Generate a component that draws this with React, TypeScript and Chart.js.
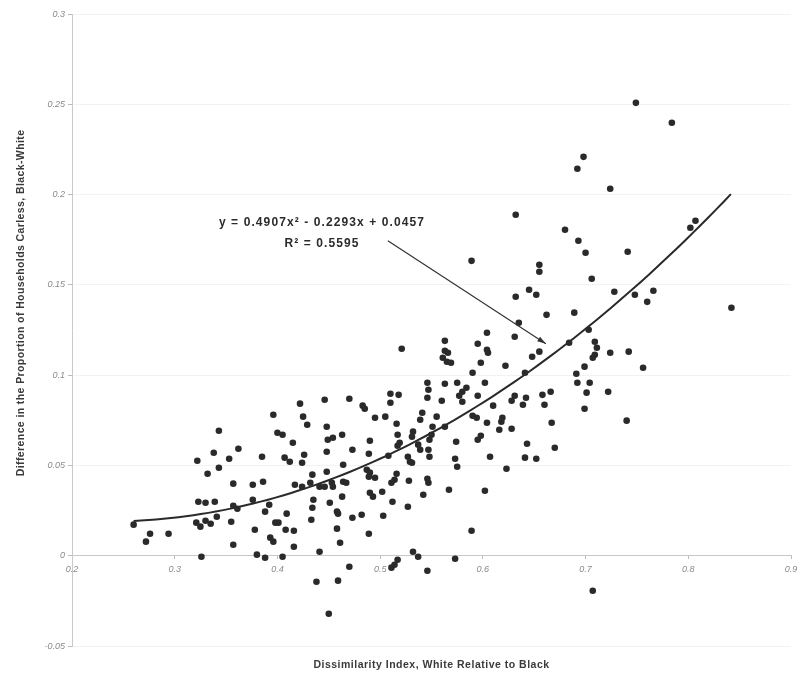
import React, { useEffect, useRef } from "react";
import { Chart, registerables } from "chart.js";

Chart.register(...registerables);

// Dissimilarity index (x) of each metropolitan area
const dissimilarity = [
  0.26, 0.276, 0.272, 0.294, 0.322, 0.338, 0.343, 0.332, 0.343, 0.353, 0.362, 0.323, 0.33, 0.339, 0.321, 0.325,
  0.33, 0.335, 0.341, 0.326, 0.357, 0.357, 0.361, 0.355, 0.357, 0.376, 0.386, 0.385, 0.376, 0.378, 0.388, 0.392,
  0.38, 0.388, 0.393, 0.396, 0.398, 0.401, 0.409, 0.408, 0.416, 0.416, 0.405, 0.396, 0.4, 0.405, 0.415, 0.422,
  0.425, 0.429, 0.407, 0.412, 0.424, 0.426, 0.446, 0.448, 0.449, 0.448, 0.448, 0.417, 0.424, 0.434, 0.432, 0.441,
  0.446, 0.435, 0.434, 0.433, 0.441, 0.438, 0.45,
  0.521, 0.546, 0.547, 0.546, 0.518, 0.51, 0.51, 0.47, 0.483, 0.485, 0.495, 0.505, 0.516, 0.541, 0.539, 0.532,
  0.531, 0.517, 0.519, 0.517, 0.537, 0.539, 0.547, 0.49, 0.463, 0.454, 0.473, 0.489, 0.508, 0.527, 0.529, 0.531,
  0.464, 0.487, 0.49, 0.489, 0.495, 0.516, 0.514, 0.511, 0.528, 0.546, 0.547, 0.464, 0.467, 0.453, 0.454, 0.49,
  0.493, 0.502, 0.463, 0.512, 0.542, 0.527, 0.458, 0.459, 0.473, 0.482, 0.503, 0.458, 0.489, 0.461, 0.532, 0.537,
  0.517, 0.514, 0.511, 0.546, 0.47, 0.459, 0.451,
  0.563, 0.563, 0.566, 0.561, 0.565, 0.569, 0.604, 0.595, 0.604, 0.605, 0.598, 0.622, 0.631, 0.648, 0.655, 0.59,
  0.641, 0.563, 0.575, 0.584, 0.58, 0.577, 0.58, 0.602, 0.56, 0.595, 0.61, 0.631, 0.628, 0.642, 0.639, 0.658,
  0.66, 0.555, 0.563, 0.551, 0.59, 0.594, 0.604, 0.619, 0.618, 0.616, 0.628, 0.55, 0.548, 0.598, 0.595, 0.574,
  0.548, 0.573, 0.575, 0.607, 0.643, 0.641, 0.652, 0.623, 0.567, 0.602, 0.589, 0.573,
  0.589, 0.655, 0.655, 0.645, 0.652, 0.632, 0.662, 0.635, 0.632,
  0.749, 0.784, 0.698, 0.692, 0.724, 0.68, 0.693, 0.7, 0.741, 0.706, 0.802, 0.807, 0.728, 0.748, 0.766, 0.76,
  0.842, 0.689, 0.703, 0.684, 0.709, 0.711, 0.709, 0.707, 0.724, 0.742, 0.756, 0.699, 0.691, 0.692, 0.704, 0.701,
  0.722, 0.666, 0.699, 0.74, 0.667, 0.67, 0.707,
];

// Difference in the proportion of households carless, Black-White (y)
const carlessGap = [
  0.0172, 0.0122, 0.0078, 0.0122, 0.0526, 0.057, 0.0692, 0.0454, 0.0487, 0.0537, 0.0592, 0.0299, 0.0293, 0.0299, 0.0183, 0.0161,
  0.0194, 0.0177, 0.0216, -0.0006, 0.0399, 0.0277, 0.026, 0.0188, 0.0061, 0.0393, 0.041, 0.0548, 0.031, 0.0144, 0.0244, 0.0282,
  0.0006, -0.0011, 0.01, 0.0078, 0.0183, 0.0183, 0.0233, 0.0144, 0.0138, 0.005, -0.0006, 0.0781, 0.0681, 0.067, 0.0626, 0.0842,
  0.077, 0.0725, 0.0543, 0.052, 0.0515, 0.0559, 0.0864, 0.0714, 0.0642, 0.0576, 0.0465, 0.0393, 0.0382, 0.0449, 0.0404, 0.0382,
  0.0382, 0.031, 0.0266, 0.0199, 0.0022, -0.0144, -0.0321,
  0.1146, 0.0958, 0.0919, 0.0875, 0.0891, 0.0897, 0.0847, 0.0869, 0.0831, 0.0814, 0.0764, 0.077, 0.0731, 0.0792, 0.0753, 0.0687,
  0.0659, 0.067, 0.0626, 0.0609, 0.0615, 0.0587, 0.0587, 0.0637, 0.067, 0.0653, 0.0587, 0.0565, 0.0554, 0.0548, 0.052, 0.0515,
  0.0504, 0.0476, 0.046, 0.0437, 0.0432, 0.0454, 0.0421, 0.0404, 0.0415, 0.0426, 0.0404, 0.041, 0.0404, 0.0404, 0.0382, 0.0349,
  0.0327, 0.0354, 0.0327, 0.0299, 0.0338, 0.0271, 0.0244, 0.0233, 0.021, 0.0227, 0.0221, 0.015, 0.0122, 0.0072, 0.0022, -0.0006,
  -0.0022, -0.005, -0.0066, -0.0083, -0.0061, -0.0138, 0.0293,
  0.119, 0.1135, 0.1124, 0.1096, 0.1074, 0.1069, 0.1235, 0.1174, 0.1141, 0.1124, 0.1069, 0.1052, 0.1213, 0.1102, 0.113, 0.1013,
  0.1013, 0.0952, 0.0958, 0.093, 0.0908, 0.0886, 0.0853, 0.0958, 0.0858, 0.0886, 0.0831, 0.0886, 0.0858, 0.0875, 0.0836, 0.0891,
  0.0836, 0.077, 0.0714, 0.0714, 0.0775, 0.0764, 0.0736, 0.0764, 0.0742, 0.0698, 0.0703, 0.067, 0.0642, 0.0664, 0.0642, 0.0631,
  0.0548, 0.0537, 0.0493, 0.0548, 0.062, 0.0543, 0.0537, 0.0482, 0.0365, 0.036, 0.0138, -0.0017,
  0.1633, 0.1611, 0.1573, 0.1473, 0.1445, 0.1434, 0.1334, 0.129, 0.1888,
  0.2508, 0.2398, 0.2209, 0.2143, 0.2032, 0.1805, 0.1744, 0.1678, 0.1683, 0.1534, 0.1816, 0.1855, 0.1462, 0.1445, 0.1467, 0.1406,
  0.1373, 0.1346, 0.1251, 0.1179, 0.1185, 0.1152, 0.1113, 0.1096, 0.1124, 0.113, 0.1041, 0.1047, 0.1008, 0.0958, 0.0958, 0.0903,
  0.0908, 0.0908, 0.0814, 0.0748, 0.0736, 0.0598, -0.0194,
];

// Polynomial trend line shown on the chart: y = a x^2 + b x + c
const trendCoefficients = [0.4907, -0.2293, 0.0457];
const trendRange = [0.26, 0.8415];
const trendSamples = 80;

const xTicks = [0.2, 0.3, 0.4, 0.5, 0.6, 0.7, 0.8, 0.9];
const yTicks = [-0.05, 0, 0.05, 0.1, 0.15, 0.2, 0.25, 0.3];

const equationText = "y = 0.4907x\u00B2 - 0.2293x + 0.0457";
const rSquaredText = "R\u00B2 = 0.5595";
const xTitle = "Dissimilarity Index, White Relative to Black";
const yTitle = "Difference in the Proportion of Households Carless, Black-White";

// annotation anchors in data units
const equationAnchor = [0.4434, 0.1844];
const rSquaredAnchor = [0.4434, 0.1728];
const arrowFrom = [0.5075, 0.1744];
const arrowTo = [0.6613, 0.1174];
const yTitleCenter = 0.14; // data value at which the rotated y title is centred

const fmt = (v: number) => String(Number(v.toFixed(2)));
const FAMILY = '"Liberation Sans", Arial, sans-serif';

const annotationPlugin = {
  id: "trendAnnotation",
  afterDatasetsDraw(chart: any) {
    const { ctx, scales, chartArea } = chart;
    const x = scales.x;
    const y = scales.y;
    ctx.save();
    ctx.fillStyle = "#2b2b2b";
    ctx.font = `bold 12px ${FAMILY}`;
    (ctx as any).letterSpacing = "1.1px";
    ctx.textAlign = "center";
    ctx.textBaseline = "middle";
    ctx.fillText(equationText, x.getPixelForValue(equationAnchor[0]), y.getPixelForValue(equationAnchor[1]));
    ctx.fillText(rSquaredText, x.getPixelForValue(rSquaredAnchor[0]), y.getPixelForValue(rSquaredAnchor[1]));

    const x0 = x.getPixelForValue(arrowFrom[0]);
    const y0 = y.getPixelForValue(arrowFrom[1]);
    const x1 = x.getPixelForValue(arrowTo[0]);
    const y1 = y.getPixelForValue(arrowTo[1]);
    ctx.strokeStyle = "#333";
    ctx.lineWidth = 1.2;
    ctx.beginPath();
    ctx.moveTo(x0, y0);
    ctx.lineTo(x1, y1);
    ctx.stroke();
    const ang = Math.atan2(y1 - y0, x1 - x0);
    const len = 9;
    const spread = 0.3;
    ctx.fillStyle = "#333";
    ctx.beginPath();
    ctx.moveTo(x1, y1);
    ctx.lineTo(x1 - len * Math.cos(ang - spread), y1 - len * Math.sin(ang - spread));
    ctx.lineTo(x1 - len * Math.cos(ang + spread), y1 - len * Math.sin(ang + spread));
    ctx.closePath();
    ctx.fill();

    // axis titles
    ctx.fillStyle = "#3a3a3a";
    ctx.font = `bold 10.5px ${FAMILY}`;
    (ctx as any).letterSpacing = "0.5px";
    ctx.fillText(xTitle, (chartArea.left + chartArea.right) / 2, chartArea.bottom + 19);

    (ctx as any).letterSpacing = "0.4px";
    ctx.translate(21, y.getPixelForValue(yTitleCenter));
    ctx.rotate(-Math.PI / 2);
    ctx.fillText(yTitle, 0, 0);
    ctx.restore();
  },
};

export default function App() {
  const ref = useRef<HTMLCanvasElement | null>(null);

  useEffect(() => {
    if (!ref.current) return;
    const points = dissimilarity.map((d, i) => ({ x: d, y: carlessGap[i] }));
    const trend: { x: number; y: number }[] = [];
    for (let i = 0; i <= trendSamples; i++) {
      const xv = trendRange[0] + ((trendRange[1] - trendRange[0]) * i) / trendSamples;
      trend.push({ x: xv, y: trendCoefficients[0] * xv * xv + trendCoefficients[1] * xv + trendCoefficients[2] });
    }
    const tickFont = { family: FAMILY, size: 9, style: "italic" as const };
    const chart = new Chart(ref.current, {
      type: "scatter",
      data: {
        datasets: [
          {
            data: points,
            backgroundColor: "#2a2a2a",
            borderWidth: 0,
            pointRadius: 3.3,
            pointHoverRadius: 3.3,
          },
          {
            type: "line",
            data: trend,
            borderColor: "#2a2a2a",
            borderWidth: 2,
            pointRadius: 0,
            fill: false,
            tension: 0,
          } as any,
        ],
      },
      options: {
        animation: false,
        responsive: true,
        maintainAspectRatio: false,
        layout: { padding: { left: 0, right: 17, top: 14, bottom: 29 } },
        plugins: { legend: { display: false }, tooltip: { enabled: false }, title: { display: false } },
        scales: {
          x: {
            type: "linear",
            position: { y: 0 } as any,
            min: 0.2,
            max: 0.9,
            afterFit: (s: any) => {
              s.height = 0;
            },
            afterBuildTicks: (s: any) => {
              s.ticks = xTicks.map((v) => ({ value: v }));
            },
            ticks: {
              callback: (v: any) => fmt(Number(v)),
              color: "#8a8a8a",
              font: tickFont,
              padding: 5,
              maxRotation: 0,
              autoSkip: false,
            },
            grid: { drawOnChartArea: false, tickLength: 3, tickColor: "#bbb" },
            border: { display: true, color: "#c8c8c8", width: 1 },
          },
          y: {
            type: "linear",
            position: "left",
            min: -0.05,
            max: 0.3,
            afterFit: (s: any) => {
              s.width = 72;
            },
            afterBuildTicks: (s: any) => {
              s.ticks = yTicks.map((v) => ({ value: v }));
            },
            ticks: {
              callback: (v: any) => fmt(Number(v)),
              color: "#8a8a8a",
              font: tickFont,
              padding: 3,
              autoSkip: false,
            },
            grid: {
              color: (c: any) => (c.tick && c.tick.value === 0 ? "rgba(0,0,0,0)" : "rgba(0,0,0,0.05)"),
              tickLength: 4,
              tickColor: "#bbb",
            },
            border: { display: true, color: "#c8c8c8", width: 1 },
          },
        },
      },
      plugins: [annotationPlugin],
    });
    return () => chart.destroy();
  }, []);

  return (
    <div style={{ position: "fixed", left: 0, top: 0, width: 808, height: 675, background: "#fff" }}>
      <canvas ref={ref} />
    </div>
  );
}
